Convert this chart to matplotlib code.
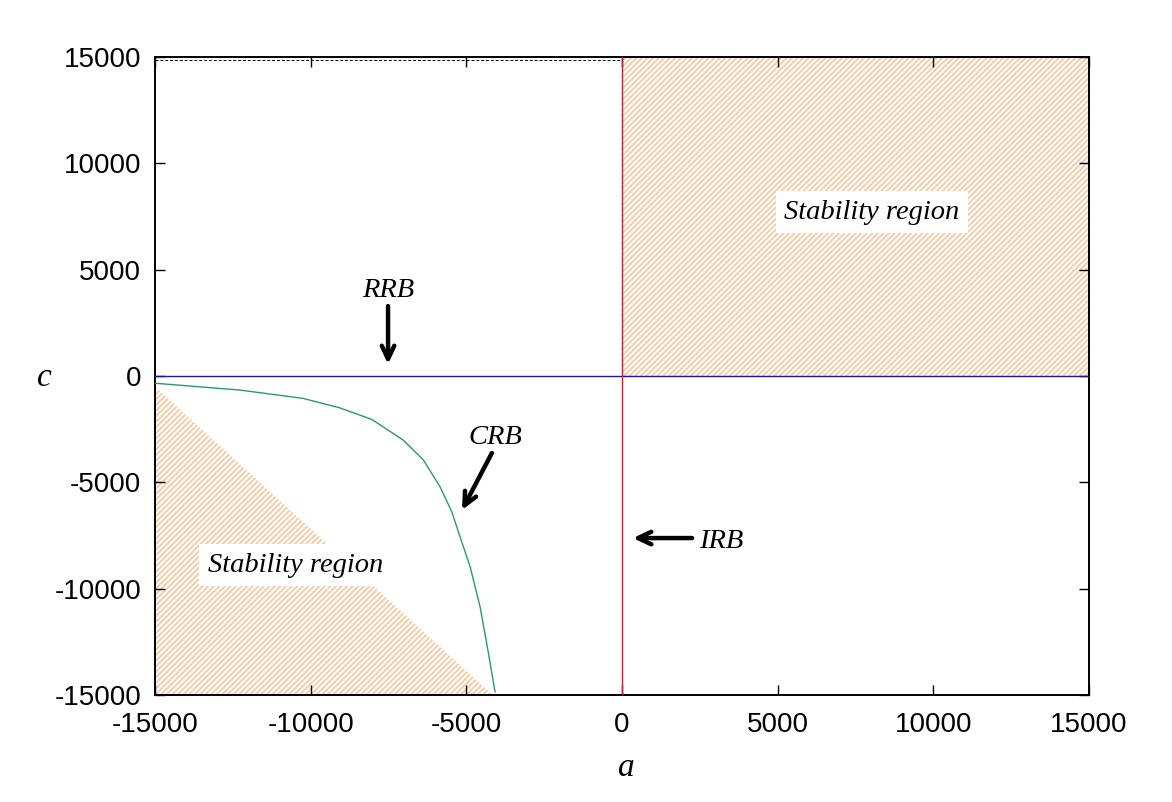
"""
Stability regions in the (a, c) plane with RRB / CRB / IRB boundaries.

Writes:   out.png
"""

import matplotlib
matplotlib.use("Agg")
import matplotlib.pyplot as plt
import numpy as np

plt.rcParams["font.family"] = ["Liberation Sans", "DejaVu Sans"]
plt.rcParams["axes.unicode_minus"] = False
plt.rcParams["hatch.linewidth"] = 1.4

SERIF = ["Liberation Serif", "DejaVu Serif"]
HATCH_COLOR = "#f2cdab"

# CRB curve
crb_a = [-15000, -12270, -10250, -9060, -8040, -7030, -6380, -5850,
         -5470, -5150, -4880, -4560, -4290, -4080]
crb_c = [-340, -660, -1050, -1500, -2040, -3010, -3950, -5200,
         -6380, -7790, -8970, -10850, -13040, -14850]

# lower-left stability triangle
low_a = [-15000, -4150, -15000]
low_c = [-500, -15000, -15000]

# upper-right stability box
up_a = [0, 15000, 15000, 0]
up_c = [0, 0, 15000, 15000]

ticks = [-15000, -10000, -5000, 0, 5000, 10000, 15000]
lim = 15000


def main():
    fig = plt.figure(figsize=(11.72, 8.02), dpi=100)
    ax = fig.add_axes([0.1323, 0.1334, 0.7969, 0.7955])

    ax.fill(up_a, up_c, facecolor="none", edgecolor=HATCH_COLOR,
            hatch="//////", linewidth=0.8, zorder=1)
    ax.fill(low_a, low_c, facecolor="none", edgecolor=HATCH_COLOR,
            hatch="//////", linewidth=0, zorder=1)

    ax.plot([-lim, lim], [0, 0], color="#1a1a8c", lw=1.0, zorder=3)
    ax.plot([0, 0], [-lim, lim], color="#b42a2c", lw=1.0, zorder=3)
    ax.plot(crb_a, crb_c, color="#2e9a62", lw=1.0, zorder=3)
    ax.plot([-lim, 0], [14870, 14870], color="black", lw=0.7,
            ls=(0, (3, 2)), zorder=3)

    tkw = dict(fontsize=20.5, family=SERIF, style="italic", zorder=5)
    box = dict(facecolor="white", edgecolor="none", pad=6)
    ax.text(8030, 7710, "Stability region", ha="center", va="center",
            bbox=box, **tkw)
    ax.text(-10500, -8890, "Stability region", ha="center", va="center",
            bbox=box, **tkw)
    ax.text(-7516, 4040, "RRB", ha="center", va="center", **tkw)
    ax.text(-4080, -2870, "CRB", ha="center", va="center", **tkw)
    ax.text(3200, -7800, "IRB", ha="center", va="center", **tkw)

    arrow = dict(arrowstyle="->,head_length=0.95,head_width=0.45",
                 color="black", lw=3.2, shrinkA=0, shrinkB=0)
    ax.annotate("", xy=(-7516, 560), xytext=(-7516, 3290),
                arrowprops=arrow, zorder=5)
    ax.annotate("", xy=(-5140, -6300), xytext=(-4180, -3620),
                arrowprops=arrow, zorder=5)
    ax.annotate("", xy=(350, -7620), xytext=(2250, -7620),
                arrowprops=arrow, zorder=5)

    ax.set_xlim(-lim, lim)
    ax.set_ylim(-lim, lim)
    ax.set_xticks(ticks)
    ax.set_yticks(ticks)
    ax.tick_params(direction="in", length=7, width=1, labelsize=20,
                   top=True, right=True)
    ax.tick_params(axis="x", pad=12)
    ax.tick_params(axis="y", pad=10)
    for sp in ax.spines.values():
        sp.set_linewidth(1.4)

    ax.set_xlabel("a", fontsize=24, family=SERIF, style="italic",
                  va="center")
    ax.set_ylabel("c", fontsize=24, family=SERIF, style="italic",
                  rotation=0, va="center", ha="center")
    ax.xaxis.set_label_coords(0.505, -0.114)
    ax.yaxis.set_label_coords(-0.118, 0.497)

    fig.savefig("out.png", dpi=100)


if __name__ == "__main__":
    main()
